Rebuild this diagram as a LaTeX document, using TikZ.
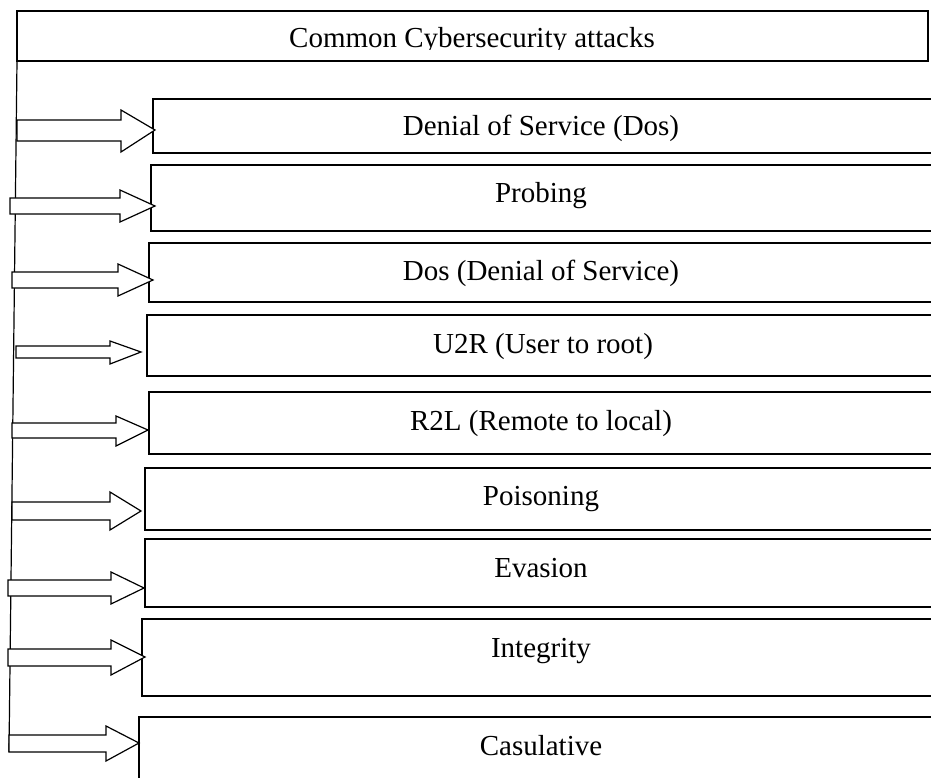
\documentclass[tikz,border=0pt]{standalone}
\usepackage{fontspec}
\setmainfont{Liberation Serif}
\newcommand{\blkarrow}[7]{%
  \draw[blockarrow] (#1,#2) -- (#4,#2) -- (#4,#5) -- (#7) -- (#4,#6) -- (#4,#3) -- (#1,#3) -- cycle;}
\begin{document}
\begin{tikzpicture}[x=1pt,y=-1pt,line width=1.2pt,
  framebox/.style={draw=black, rectangle, anchor=north west, inner sep=0pt, outer sep=0pt},
  itembox/.style={framebox, minimum width=800pt},
  lbl/.style={font=\fontsize{29}{34}\selectfont, inner sep=0pt, anchor=base},
  blockarrow/.style={draw=black, fill=white, line join=miter}]
\useasboundingbox (0,0) rectangle (931,778);
\clip (0,0) rectangle (931,778);
% title
\node[framebox, minimum width=911pt, minimum height=50pt] (title) at (17,11) {};
\begin{scope}
  \clip (17,11) rectangle (928,49.5);
  \node[lbl] (ttl) at (472,48) {Common Cybersecurity attacks};
\end{scope}
% item boxes
\node[itembox, minimum height=54pt] (b1) at (153,99) {};
\node[itembox, minimum height=66pt] (b2) at (151,165) {};
\node[itembox, minimum height=59pt] (b3) at (149,243) {};
\node[itembox, minimum height=61pt] (b4) at (147,315) {};
\node[itembox, minimum height=62pt] (b5) at (149,392) {};
\node[itembox, minimum height=62pt] (b6) at (145,468) {};
\node[itembox, minimum height=68pt] (b7) at (145,539) {};
\node[itembox, minimum height=77pt] (b8) at (142,619) {};
\node[itembox, minimum height=90pt] (b9) at (139,717) {};
% labels
\node[lbl] (t1) at (541,136) {Denial of Service (Dos)};
\node[lbl] (t2) at (541,202) {Probing};
\node[lbl] (t3) at (541,280) {Dos (Denial of Service)};
\node[lbl] (t4) at (543,353) {U2R (User to root)};
\node[lbl] (t5) at (541,430) {R2L (Remote to local)};
\node[lbl] (t6) at (541,505) {Poisoning};
\node[lbl] (t7) at (541,577) {Evasion};
\node[lbl] (t8) at (541,657) {Integrity};
\node[lbl] (t9) at (541,755) {Casulative};
% spine
\coordinate (spineend) at (9,752);
\draw (title.south west) -- (spineend);
% arrow tips
\coordinate (p1) at (155,130);
\coordinate (p2) at (155,206);
\coordinate (p3) at (153,280);
\coordinate (p4) at (141,352);
\coordinate (p5) at (148,430);
\coordinate (p6) at (141,511);
\coordinate (p7) at (144,588);
\coordinate (p8) at (145,657);
\coordinate (p9) at (139,743);
\blkarrow{17}{120}{141}{121}{110}{152}{p1}
\blkarrow{10}{198}{214}{120}{190}{222}{p2}
\blkarrow{12}{272}{288}{118}{264}{296}{p3}
\blkarrow{16}{346}{358}{110}{341}{364}{p4}
\blkarrow{12}{423}{438}{116}{416}{446}{p5}
\blkarrow{12}{502}{520}{110}{492}{530}{p6}
\blkarrow{8}{580}{596}{111}{572}{604}{p7}
\blkarrow{8}{649}{666}{111}{640}{675}{p8}
\blkarrow{9}{735}{752}{106}{726}{761}{p9}
\end{tikzpicture}
\end{document}
